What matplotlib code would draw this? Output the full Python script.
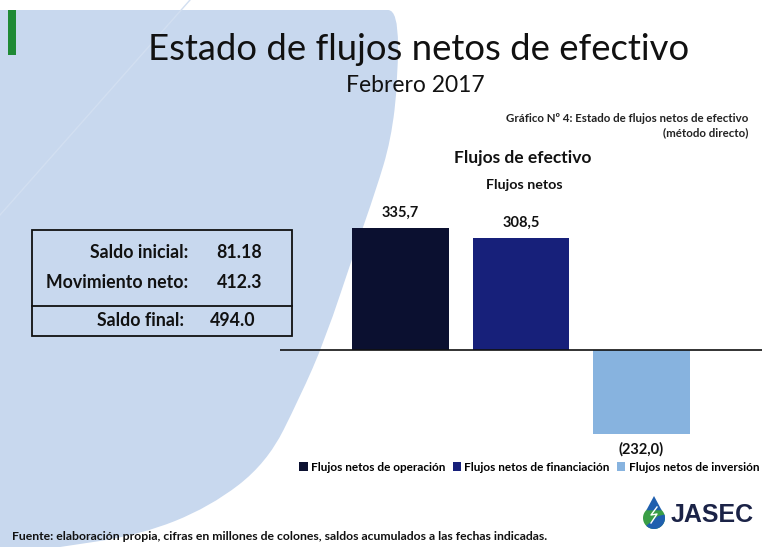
import numpy as np
import matplotlib
matplotlib.use("Agg")
import matplotlib.pyplot as plt
from matplotlib.patches import Polygon, Rectangle, PathPatch
from matplotlib.path import Path

# Data
categorias = ["Flujos netos de operación", "Flujos netos de financiación", "Flujos netos de inversión"]
valores = [335.7, 308.5, -232.0]
colores = ["#0b1030", "#17207a", "#87b3df"]

tabla_etiquetas = ["Saldo inicial:", "Movimiento neto:", "Saldo final:"]
tabla_valores = ["81.18", "412.3", "494.0"]

plt.rcParams['font.family'] = ['Lato', 'DejaVu Sans']

W, H = 762, 547
fig = plt.figure(figsize=(W / 100, H / 100), dpi=100)
fig.patch.set_facecolor('white')

# Background axes in pixel coordinates
bg = fig.add_axes([0, 0, 1, 1])
bg.set_xlim(0, W)
bg.set_ylim(H, 0)
bg.axis('off')

# light blue slide decoration with curved edge (smooth curve through guide points)
guia = [(388, 10), (398, 10), (398, 80), (391, 140), (376, 190), (355, 250), (325, 340),
        (300, 397), (267, 463), (210, 507), (140, 535), (60, 547)]
verts = [(0, 10), guia[0]]
codes = [Path.MOVETO, Path.LINETO]
for i in range(1, len(guia) - 1):
    mx = (guia[i][0] + guia[i + 1][0]) / 2
    my = (guia[i][1] + guia[i + 1][1]) / 2
    verts += [guia[i], (mx, my)]
    codes += [Path.CURVE3, Path.CURVE3]
verts += [guia[-1], (0, 547), (0, 10)]
codes += [Path.LINETO, Path.LINETO, Path.CLOSEPOLY]
bg.add_patch(PathPatch(Path(verts, codes), facecolor='#c8d8ee', edgecolor='none', zorder=0))
bg.plot([0, 190], [215, 0], color='#d2dff1', lw=1.0, zorder=0.5)

# green accent bar
bg.add_patch(Rectangle((8, 10), 8, 45, facecolor='#1f8a35', edgecolor='none', zorder=1))

# titles
bg.text(419, 50, "Estado de flujos netos de efectivo", fontsize=26.3, ha='center', va='center', color='#111111')
bg.text(415, 86, "Febrero 2017", fontsize=16.5, ha='center', va='center', color='#111111')
bg.text(748, 118, "Gráfico Nº 4: Estado de flujos netos de efectivo", fontsize=8.3, fontweight='bold',
        ha='right', va='center', color='#222222')
bg.text(748, 133, "(método directo)", fontsize=8.3, fontweight='bold', ha='right', va='center', color='#222222')
bg.text(523, 158, "Flujos de efectivo", fontsize=12.5, fontweight='bold', ha='center', va='center', color='#111111')
bg.text(524, 185, "Flujos netos", fontsize=10.3, fontweight='bold', ha='center', va='center', color='#111111')

# summary table
bg.add_patch(Rectangle((32, 230), 260, 106, facecolor='none', edgecolor='#111111', lw=1.3, zorder=2))
bg.plot([32, 292], [306, 306], color='#111111', lw=1.3, zorder=2)
filas_y = [252, 283, 321]
for i, (et, va) in enumerate(zip(tabla_etiquetas, tabla_valores)):
    xe = 188 if i < 2 else 184
    xv = 262 if i < 2 else 256
    bg.text(xe, filas_y[i], et, fontsize=12.8, fontweight='bold', ha='right', va='center', color='#111111')
    bg.text(xv, filas_y[i], va, fontsize=12.8, fontweight='bold', ha='right', va='center', color='#111111')

# footer
bg.text(12, 537, "Fuente: elaboración propia, cifras en millones de colones, saldos acumulados a las fechas indicadas.",
        fontsize=8.8, fontweight='bold', ha='left', va='center', color='#111111')

# logo: teardrop, blue top, green bottom
t = np.linspace(0, 2 * np.pi, 200)
cx, cy, r = 654, 518, 11
gx = cx + r * np.sin(t)
gy = cy + r * np.cos(t)
punta_x = np.array([cx - r * 0.7, cx, cx + r * 0.7])
punta_y = np.array([cy - r * 0.7, 496, cy - r * 0.7])
bg.add_patch(Polygon(list(zip(gx, gy)), closed=True, facecolor='#3a9e46', edgecolor='none', zorder=2))
bg.add_patch(Polygon(list(zip(punta_x, punta_y)), closed=True, facecolor='#1f5fae', edgecolor='none', zorder=3))
ang = np.linspace(np.pi * 0.75, np.pi * 1.6, 60)
arco = list(zip(cx + r * np.sin(ang + np.pi), cy + r * np.cos(ang + np.pi)))
bg.add_patch(Polygon(arco + [(cx + 4, cy - 2)], closed=True, facecolor='#1f5fae', edgecolor='none', zorder=3))
bg.plot([657, 651, 657, 651], [507, 515, 514, 523], color='white', lw=1, zorder=4)
bg.text(671, 515, "JASEC", fontsize=18, fontweight='bold', family='Liberation Sans',
        ha='left', va='center', color='#1b2347')

# Chart axes
ax = fig.add_axes([280 / W, (H - 460) / H, 482 / W, 320 / H])
ax.patch.set_alpha(0)
x = np.arange(len(valores))
barras = ax.bar(x, valores, width=0.8, color=colores, label=categorias, zorder=2)
ax.set_xlim(-1, 3)
ax.set_ylim(-303, 578)
ax.axhline(0, color='#111111', lw=1.2, zorder=3)
for xi, v in zip(x, valores):
    txt = f"{abs(v):.1f}".replace('.', ',')
    if v < 0:
        ax.annotate(f"({txt})", (xi, v), xytext=(0, -11), textcoords='offset points',
                    ha='center', va='center', fontsize=10.5, fontweight='bold', color='#111111')
    else:
        ax.annotate(txt, (xi, v), xytext=(0, 11), textcoords='offset points',
                    ha='center', va='center', fontsize=10.5, fontweight='bold', color='#111111')
ax.axis('off')

leg = ax.legend(barras, categorias, loc='center', bbox_to_anchor=(0.517, -0.022), ncol=3, frameon=False,
                fontsize=8.5, handlelength=0.7, handleheight=0.7, handletextpad=0.3, columnspacing=0.6)
for tx in leg.get_texts():
    tx.set_fontweight('bold')

fig.savefig("out.png", dpi=100)
